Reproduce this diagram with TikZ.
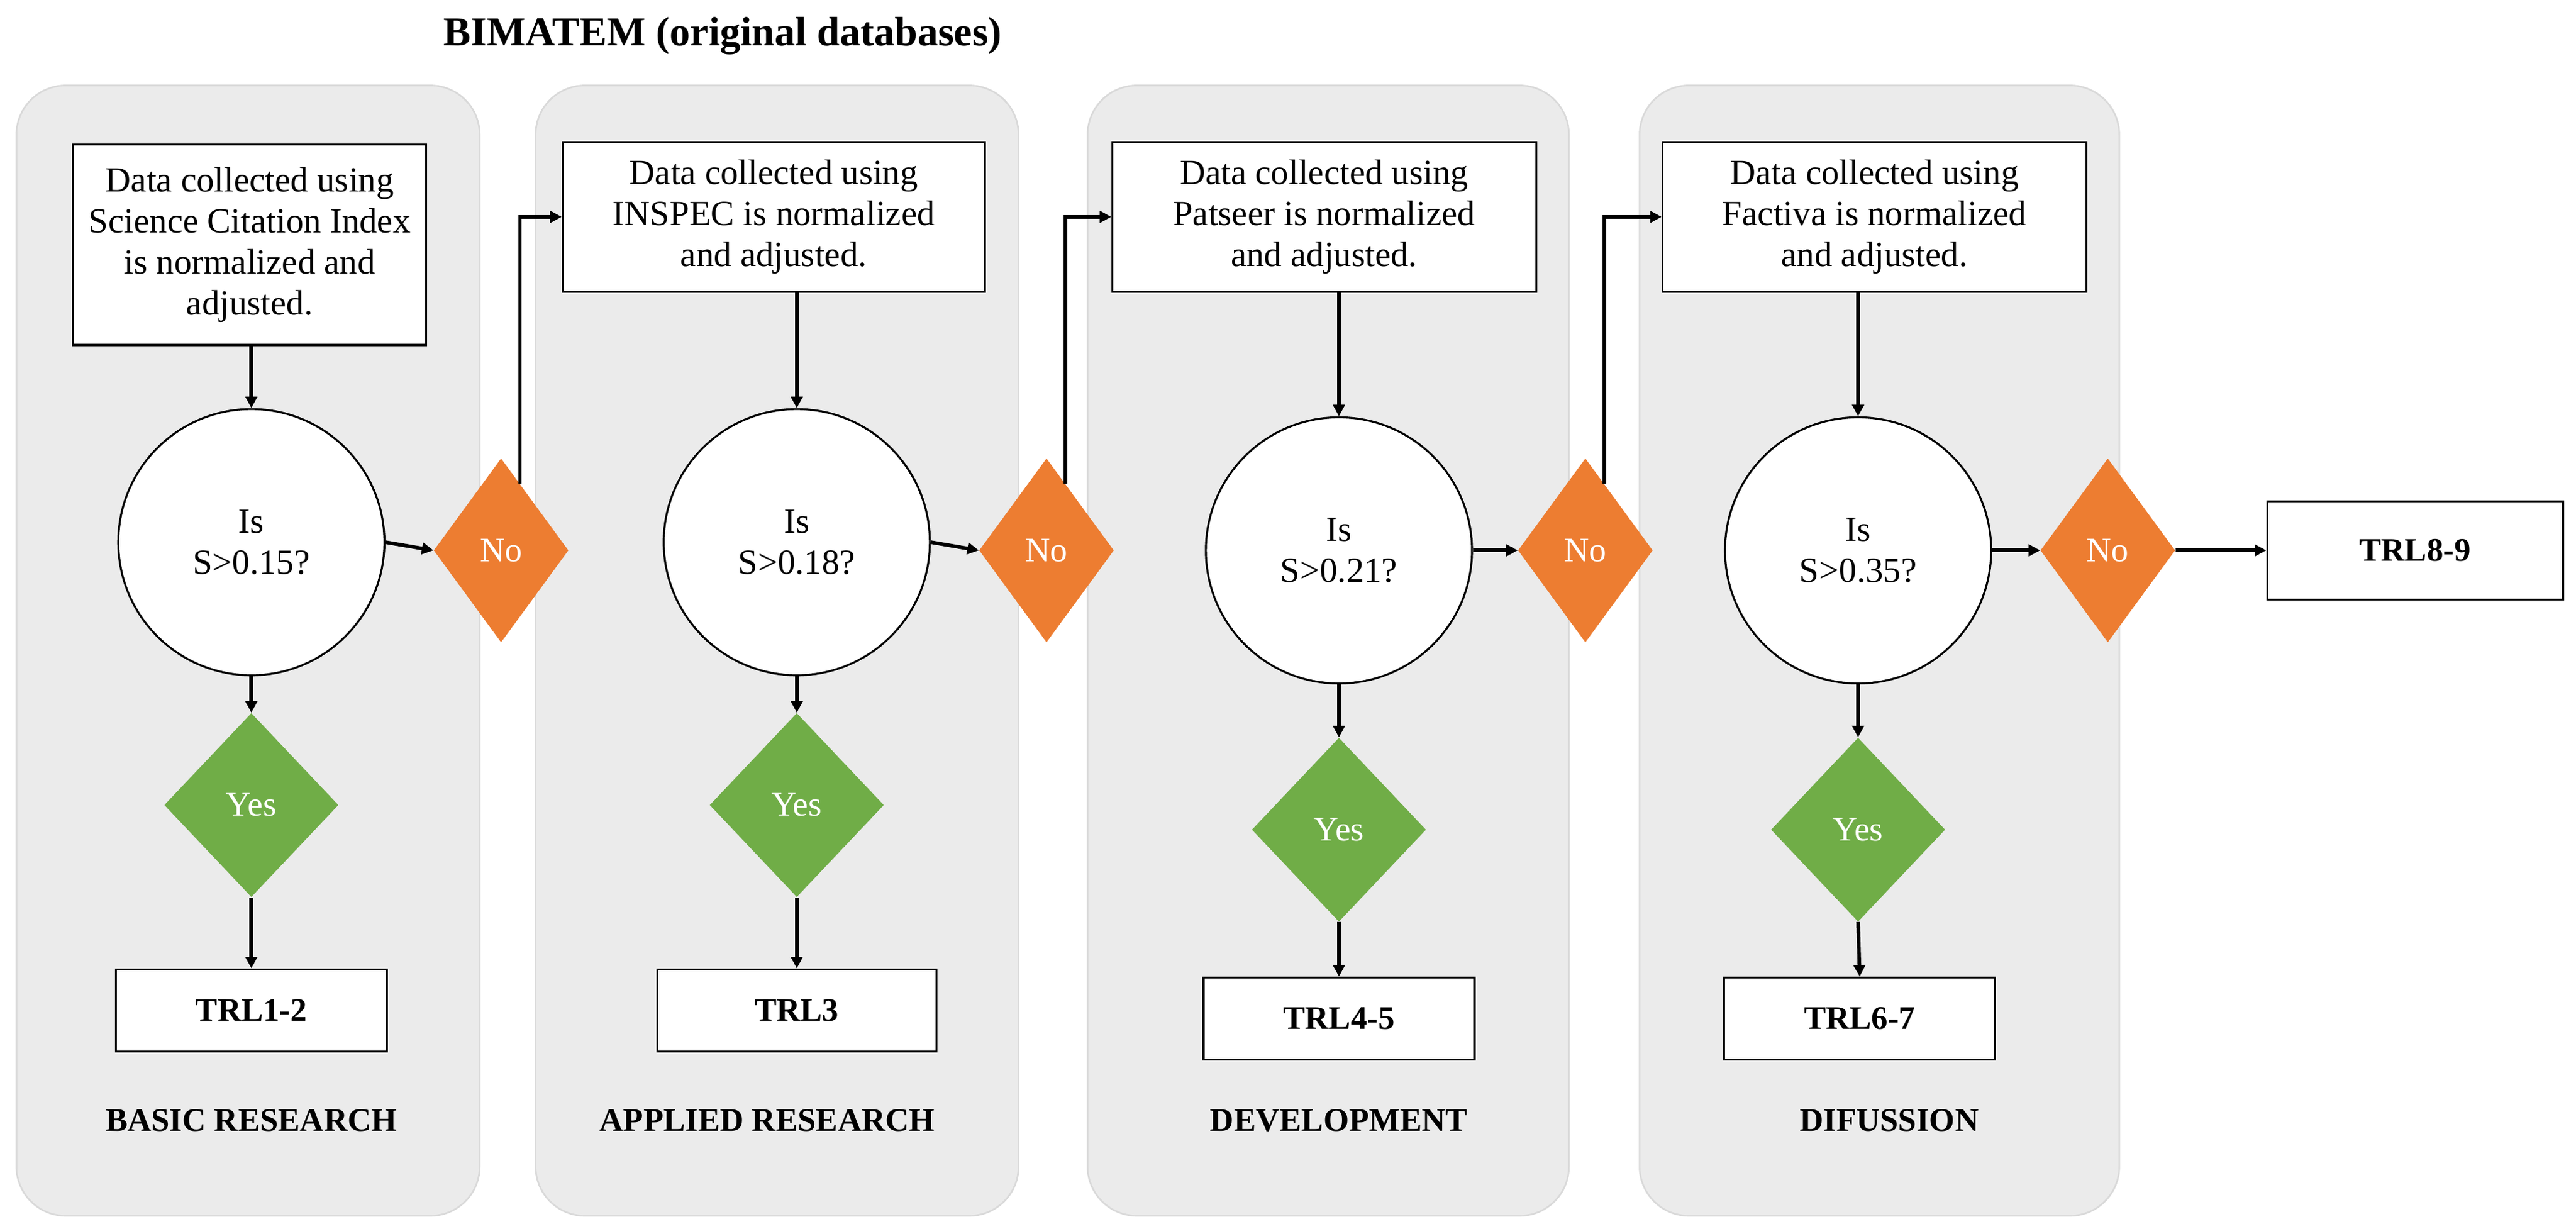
\documentclass[tikz,border=0pt]{standalone}
\usepackage{fontspec}
\setmainfont{Liberation Serif}
\usetikzlibrary{shapes.geometric,arrows.meta,calc}
\begin{document}
\begin{tikzpicture}[x=1pt,y=-1pt,
 panel/.style={draw=black!15,fill=black!8,rounded corners=30pt,line width=1pt},
 box/.style={draw=black,fill=white,line width=1.2pt,align=center,font=\fontsize{21.5}{25}\selectfont,inner sep=4pt},
 trl/.style={draw=black,fill=white,line width=1.2pt,font=\bfseries\fontsize{20}{22}\selectfont},
 circ/.style={circle,draw=black,fill=white,line width=1.2pt,minimum size=162pt,align=center,font=\fontsize{21.5}{25}\selectfont},
 no/.style={diamond,fill={rgb,255:red,237;green,125;blue,49},draw=none,minimum width=82pt,minimum height=112pt,inner sep=0,text=white,font=\fontsize{21}{24}\selectfont},
 yes/.style={diamond,fill={rgb,255:red,112;green,173;blue,71},minimum width=106pt,minimum height=112pt,inner sep=0,text=white,font=\fontsize{21}{24}\selectfont},
 lab/.style={font=\bfseries\fontsize{20}{22}\selectfont},
 arr/.style={-{Triangle[length=7pt,width=7pt]},line width=2.2pt}]
\useasboundingbox (0,0) rectangle (1568,748);
\node[font=\bfseries\fontsize{25}{28}\selectfont] (title) at (440,22) {BIMATEM (original databases)};
\foreach \a/\b in {10/292,326/620,662/955,998/1290}{\draw[panel] (\a,52) rectangle (\b,740);}
\node[box,minimum width=215pt,minimum height=122pt] (b1) at (152,149) {Data collected using\\Science Citation Index\\is normalized and\\adjusted.};
\node[box,minimum width=257pt,minimum height=91pt] (b2) at (471,132) {Data collected using\\INSPEC is normalized\\and adjusted.};
\node[box,minimum width=258pt,minimum height=91pt] (b3) at (806,132) {Data collected using\\Patseer is normalized\\and adjusted.};
\node[box,minimum width=258pt,minimum height=91pt] (b4) at (1141,132) {Data collected using\\Factiva is normalized\\and adjusted.};
\node[circ] (c1) at (153,330) {Is\\S>0.15?};
\node[circ] (c2) at (485,330) {Is\\S>0.18?};
\node[circ] (c3) at (815,335) {Is\\S>0.21?};
\node[circ] (c4) at (1131,335) {Is\\S>0.35?};
\node[no] (n1) at (305,335) {No};
\node[no] (n2) at (637,335) {No};
\node[no] (n3) at (965,335) {No};
\node[no] (n4) at (1283,335) {No};
\node[yes] (y1) at (153,490) {Yes};
\node[yes] (y2) at (485,490) {Yes};
\node[yes] (y3) at (815,505) {Yes};
\node[yes] (y4) at (1131,505) {Yes};
\node[trl,minimum width=165pt,minimum height=50pt] (t1) at (153,615) {TRL1-2};
\node[trl,minimum width=170pt,minimum height=50pt] (t2) at (485,615) {TRL3};
\node[trl,minimum width=165pt,minimum height=50pt] (t3) at (815,620) {TRL4-5};
\node[trl,minimum width=165pt,minimum height=50pt] (t4) at (1132,620) {TRL6-7};
\node[trl,minimum width=180pt,minimum height=60pt] (t5) at (1470,335) {TRL8-9};
\node[lab] (l1) at (153,682) {BASIC RESEARCH};
\node[lab] (l2) at (467,682) {APPLIED RESEARCH};
\node[lab] (l3) at (815,682) {DEVELOPMENT};
\node[lab] (l4) at (1150,682) {DIFUSSION};
\foreach \i in {1,2,3,4}{
 \draw[arr] (b\i.south -| c\i.north) -- (c\i.north);
 \draw[arr] (c\i.east) -- (n\i.west);
 \draw[arr] (c\i.south) -- (y\i.north);
 \draw[arr] (y\i.south) -- (t\i.north);
}
\foreach \i/\j in {1/2,2/3,3/4}{
 \draw[arr] ($(n\i.north)!0.28!(n\i.east)$) |- (b\j.west);
}
\draw[arr] (n4.east) -- (t5.west);
\end{tikzpicture}
\end{document}
